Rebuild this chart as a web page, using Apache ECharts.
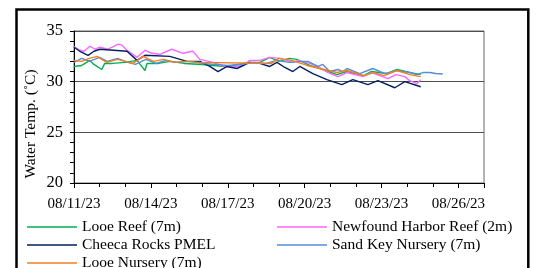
<!DOCTYPE html>
<html>
<head>
<meta charset="utf-8">
<script src="https://cdn.jsdelivr.net/npm/echarts@6/dist/echarts.min.js"></script>
<style>
    html, body { margin: 0; padding: 0; background: #fff; }
    #chart { width: 536px; height: 268px; }
</style>
</head>
<body>
<div id="chart"></div>
<script>
// days after 08/11/23 00:00, water temperature in C
var looeReefDays  = [0, 0.3, 0.62, 0.78, 1.08, 1.2, 1.5, 2.0, 2.46, 2.77, 2.85, 3.3, 3.74, 4.3, 5.0, 5.4, 6.0, 6.8, 7.25, 7.64, 8.0, 8.4, 8.7, 9.2, 9.6, 10.26, 10.65, 11.3, 11.6, 12.2, 12.6, 13.1, 13.53];
var looeReefTemps = [31.5, 31.6, 32.1, 31.7, 31.2, 31.8, 31.8, 31.9, 32.1, 31.1, 31.8, 31.8, 32.0, 31.8, 31.7, 31.6, 31.5, 31.9, 31.9, 32.4, 32.0, 32.3, 32.2, 31.6, 31.3, 30.7, 31.0, 30.6, 31.0, 30.8, 31.2, 30.9, 30.7];

var newfoundDays  = [0, 0.23, 0.39, 0.62, 0.82, 1.01, 1.33, 1.72, 1.87, 2.07, 2.46, 2.77, 3.04, 3.35, 3.82, 4.25, 4.64, 4.91, 5.42, 5.89, 6.3, 6.62, 6.86, 7.25, 7.64, 8.03, 8.54, 8.74, 9.2, 9.59, 9.91, 10.3, 10.65, 10.96, 11.27, 11.62, 11.93, 12.25, 12.56, 12.91, 13.1, 13.38, 13.53];
var newfoundTemps = [33.45, 33.1, 33.0, 33.5, 33.2, 33.4, 33.2, 33.7, 33.6, 33.1, 32.4, 33.1, 32.8, 32.7, 33.2, 32.8, 33.0, 32.2, 31.9, 31.5, 31.5, 31.6, 32.1, 32.1, 32.4, 32.3, 31.9, 32.1, 31.8, 31.4, 30.9, 30.5, 30.9, 30.7, 30.5, 30.9, 30.6, 30.3, 30.7, 30.5, 30.1, 29.8, 30.2];

var cheecaDays  = [0, 0.23, 0.55, 0.78, 1.01, 2.07, 2.46, 2.77, 3.74, 4.41, 4.91, 5.3, 5.62, 5.97, 6.36, 6.86, 7.25, 7.64, 7.92, 8.23, 8.54, 8.81, 9.32, 9.87, 10.45, 10.88, 11.47, 11.86, 12.52, 12.91, 13.53];
var cheecaTemps = [33.4, 33.0, 32.6, 33.0, 33.2, 33.0, 32.1, 32.6, 32.5, 32.0, 32.0, 31.5, 31.0, 31.5, 31.3, 31.9, 31.8, 31.5, 31.9, 31.4, 31.0, 31.5, 30.8, 30.2, 29.7, 30.2, 29.7, 30.1, 29.4, 30.0, 29.5];

var sandKeyDays  = [0, 0.3, 0.6, 1.0, 1.3, 1.7, 2.1, 2.4, 2.8, 3.2, 3.6, 4.0, 4.5, 5.0, 5.5, 6.0, 6.5, 7.0, 7.5, 7.9, 8.4, 8.9, 9.13, 9.52, 9.71, 9.98, 10.3, 10.5, 10.65, 11.15, 11.66, 12.13, 12.6, 13.1, 13.38, 13.61, 13.88, 14.12, 14.39];
var sandKeyTemps = [31.9, 32.3, 32.0, 32.4, 32.0, 32.3, 31.9, 31.7, 32.2, 31.8, 32.1, 31.9, 32.0, 31.8, 31.7, 31.6, 31.7, 31.9, 31.8, 32.1, 31.9, 32.0, 32.0, 31.5, 31.7, 31.0, 31.2, 31.0, 31.3, 30.8, 31.3, 30.8, 31.1, 30.9, 30.7, 30.9, 30.9, 30.8, 30.75];

var looeNurseryDays  = [0, 0.3, 0.6, 0.9, 1.28, 1.7, 2.0, 2.3, 2.7, 3.1, 3.5, 3.9, 4.3, 4.9, 7.7, 8.0, 8.5, 9.1, 9.6, 10.26, 10.65, 11.3, 11.7, 12.1, 12.6, 13.1, 13.53];
var looeNurseryTemps = [32.1, 32.0, 32.3, 32.5, 31.9, 32.2, 32.0, 31.8, 32.5, 32.0, 32.2, 31.9, 32.0, 31.9, 31.8, 32.3, 32.1, 31.6, 31.3, 30.9, 31.1, 30.6, 30.9, 30.6, 31.1, 30.7, 30.5];

var seriesNames = ['Looe Reef (7m)', 'Newfound Harbor Reef (2m)', 'Cheeca Rocks PMEL', 'Sand Key Nursery (7m)', 'Looe Nursery (7m)'];
var seriesColors = ['#00B050', '#FF66FF', '#002060', '#558ED5', '#F07F22'];

var yTicks = [20, 25, 30, 35];
var startDate = new Date(2023, 7, 11);

function pairs(days, temps) {
    var out = [];
    for (var i = 0; i < days.length; i++) out.push([days[i], temps[i]]);
    return out;
}

function dayLabel(v) {
    var d = new Date(startDate.getTime() + v * 86400000);
    var mm = ('0' + (d.getMonth() + 1)).slice(-2);
    var dd = ('0' + d.getDate()).slice(-2);
    return mm + '/' + dd + '/' + String(d.getFullYear()).slice(-2);
}

var allData = [
    pairs(looeReefDays, looeReefTemps),
    pairs(newfoundDays, newfoundTemps),
    pairs(cheecaDays, cheecaTemps),
    pairs(sandKeyDays, sandKeyTemps),
    pairs(looeNurseryDays, looeNurseryTemps)
];

var font = '"Liberation Serif", "Times New Roman", serif';

var series = seriesNames.map(function (name, i) {
    return {
        name: name,
        type: 'line',
        data: allData[i],
        showSymbol: false,
        symbol: 'none',
        lineStyle: { width: 1.4, color: seriesColors[i] },
        itemStyle: { color: seriesColors[i] },
        animation: false
    };
});

// legend placement: Excel fills row by row, two columns
var legendLeft = [27, 277, 27, 277, 27];
var legendTop = [218, 218, 236, 236, 254];

var legends = seriesNames.map(function (name, i) {
    return {
        left: legendLeft[i],
        top: legendTop[i],
        padding: 0,
        icon: 'rect',
        itemWidth: 50,
        itemHeight: 1.5,
        itemGap: 5,
        textStyle: { fontFamily: font, fontSize: 15.5, color: '#000', lineHeight: 18 },
        selectedMode: false,
        data: [name]
    };
});

var myChart = echarts.init(document.getElementById('chart'), null, { renderer: 'canvas' });

var option = {
    animation: false,
    color: seriesColors,
    grid: {
        left: 74, top: 31, width: 410, height: 152,
        show: true, borderColor: '#6b6b6b', borderWidth: 1
    },
    xAxis: {
        type: 'value',
        min: 0, max: 16, interval: 3,
        axisLine: { lineStyle: { color: '#000', width: 1 } },
        axisTick: { show: true, length: 5, lineStyle: { color: '#000' } },
        minorTick: { show: true, splitNumber: 3, length: 4, lineStyle: { color: '#000' } },
        splitLine: { show: false },
        axisLabel: {
            formatter: dayLabel, fontFamily: font, fontSize: 15, color: '#000',
            margin: 14, showMaxLabel: false
        }
    },
    yAxis: {
        type: 'value',
        min: yTicks[0], max: yTicks[yTicks.length - 1], interval: 5,
        axisLine: { show: true, lineStyle: { color: '#000', width: 1 } },
        axisTick: { show: true, length: 4, lineStyle: { color: '#000' } },
        minorTick: { show: true, splitNumber: 5, length: 4, lineStyle: { color: '#000' } },
        splitLine: { show: true, lineStyle: { color: '#4d4d4d', width: 1 } },
        axisLabel: { fontFamily: font, fontSize: 16.5, color: '#000', margin: 11 }
    },
    legend: legends,
    graphic: [
        {
            type: 'rect',
            shape: { x: 16.5, y: 9.5, width: 511.8, height: 300 },
            style: { fill: null, stroke: '#000', lineWidth: 2.5 },
            silent: true
        },
        {
            type: 'text',
            x: 31, y: 124,
            rotation: Math.PI / 2,
            style: {
                text: 'Water Temp. (\u02DAC)',
                font: '15.5px ' + font,
                fill: '#000',
                textAlign: 'center',
                textVerticalAlign: 'middle'
            },
            silent: true
        }
    ],
    series: series
};

myChart.setOption(option);
</script>
</body>
</html>
